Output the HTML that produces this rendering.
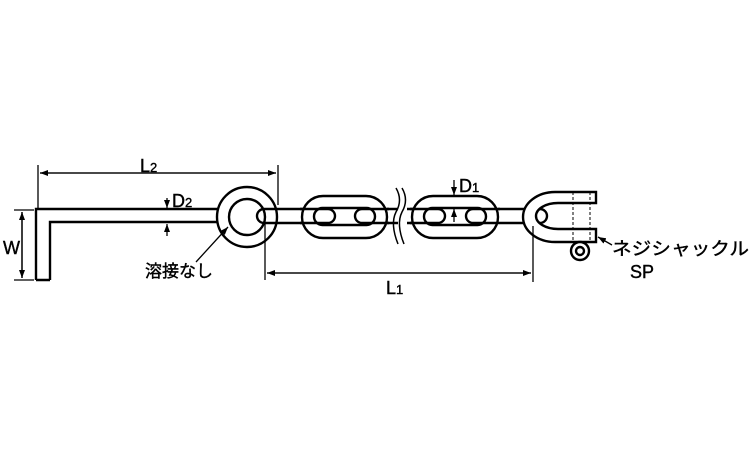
<!DOCTYPE html>
<html><head><meta charset="utf-8"><style>
html,body{margin:0;padding:0;background:#fff;}
svg{display:block;}
text{font-family:"Liberation Sans","Noto Sans CJK JP",sans-serif;fill:#000;stroke:#000;stroke-width:0.4;}
</style></head><body>
<svg width="750" height="450" viewBox="0 0 750 450" xmlns="http://www.w3.org/2000/svg">
<defs>
<marker id="a" markerWidth="8" markerHeight="6" refX="8" refY="3" orient="auto" markerUnits="userSpaceOnUse"><path d="M0,0 L8,3 L0,6 z" fill="#000"/></marker>
</defs>
<g fill="none" stroke="#000" stroke-width="2.4">
<path d="M36,280 L36,209 L220,209 M50,280 L50,222 L220,222 M36,280 L50,280" />
<circle cx="247" cy="217" r="30" fill="#fff"/>
<circle cx="247" cy="217" r="18" fill="#fff"/>
<path d="M264,209 L312,209 M264,223 L312,223 M264,209 A7,7 0 0 0 264,223"/>
<rect x="302" y="196" width="85" height="42" rx="21" fill="#fff"/>
<rect x="314" y="208" width="61" height="17" rx="8.5" fill="#fff"/>
<path d="M300,209 L328,209 A7,7 0 0 1 328,223 L300,223"/>
<path d="M389,209 L362,209 A7,7 0 0 0 362,223 L389,223"/>
<path d="M387,209 L398,209 M387,223 L398,223 M407,209 L422,209 M407,223 L422,223"/>
<path d="M396,188 Q403,200 396,212 Q390,224 398,244" stroke-width="1.5"/>
<path d="M402,188 Q409,200 402,212 Q396,224 404,244" stroke-width="1.5"/>
<rect x="412" y="196" width="86" height="42" rx="21" fill="#fff"/>
<rect x="424" y="208" width="62" height="17" rx="8.5" fill="#fff"/>
<path d="M410,209 L438,209 A7,7 0 0 1 438,223 L410,223"/>
<path d="M500,209 L473,209 A7,7 0 0 0 473,223 L540,223"/>
<path d="M498,209 L540,209"/>
<path d="M596,192 L555,192 A32,25 0 0 0 555,242 L596,242 L596,229 L558,229 A22,13 0 0 1 558,203 L596,203 Z" fill="#fff"/>
<path d="M540,209 A7,7 0 0 1 540,223" />
<path d="M573,192 L573,242 M590,192 L590,242" stroke-width="1" stroke-dasharray="3,2"/>
<circle cx="580" cy="251" r="9" fill="#fff"/>
<circle cx="580" cy="251" r="4"/>
</g>
<g fill="none" stroke="#000" stroke-width="1.3">
<path d="M38,165 L38,210 M278,165 L278,205"/>
<line x1="40" y1="173" x2="276" y2="173" marker-end="url(#a)"/>
<line x1="276" y1="173" x2="40" y2="173" marker-end="url(#a)"/>
<path d="M14,210 L34,210 M14,280 L34,280"/>
<line x1="22" y1="212" x2="22" y2="278" marker-end="url(#a)"/>
<line x1="22" y1="278" x2="22" y2="212" marker-end="url(#a)"/>
<line x1="167" y1="198" x2="167" y2="208" marker-end="url(#a)"/>
<line x1="167" y1="236" x2="167" y2="224" marker-end="url(#a)"/>
<line x1="196" y1="262" x2="228" y2="227" marker-end="url(#a)"/>
<path d="M265,224 L265,280 M533,226 L533,282"/>
<line x1="267" y1="273" x2="531" y2="273" marker-end="url(#a)"/>
<line x1="531" y1="273" x2="267" y2="273" marker-end="url(#a)"/>
<line x1="454" y1="180" x2="454" y2="195" marker-end="url(#a)"/>
<line x1="454" y1="222" x2="454" y2="209" marker-end="url(#a)"/>
<line x1="612" y1="245" x2="598" y2="237" marker-end="url(#a)"/>
</g>
<text x="140" y="172" font-size="18">L<tspan font-size="13">2</tspan></text>
<text x="3" y="254" font-size="18">W</text>
<text x="172" y="207" font-size="18">D<tspan font-size="13">2</tspan></text>
<text x="145" y="277" font-size="17">溶接なし</text>
<text x="386" y="294" font-size="18">L<tspan font-size="13">1</tspan></text>
<text x="459" y="192" font-size="18">D<tspan font-size="13">1</tspan></text>
<text x="612" y="255" font-size="18" textLength="137" lengthAdjust="spacingAndGlyphs">ネジシャックル</text>
<text x="630" y="278" font-size="18">SP</text>
</svg>
</body></html>
